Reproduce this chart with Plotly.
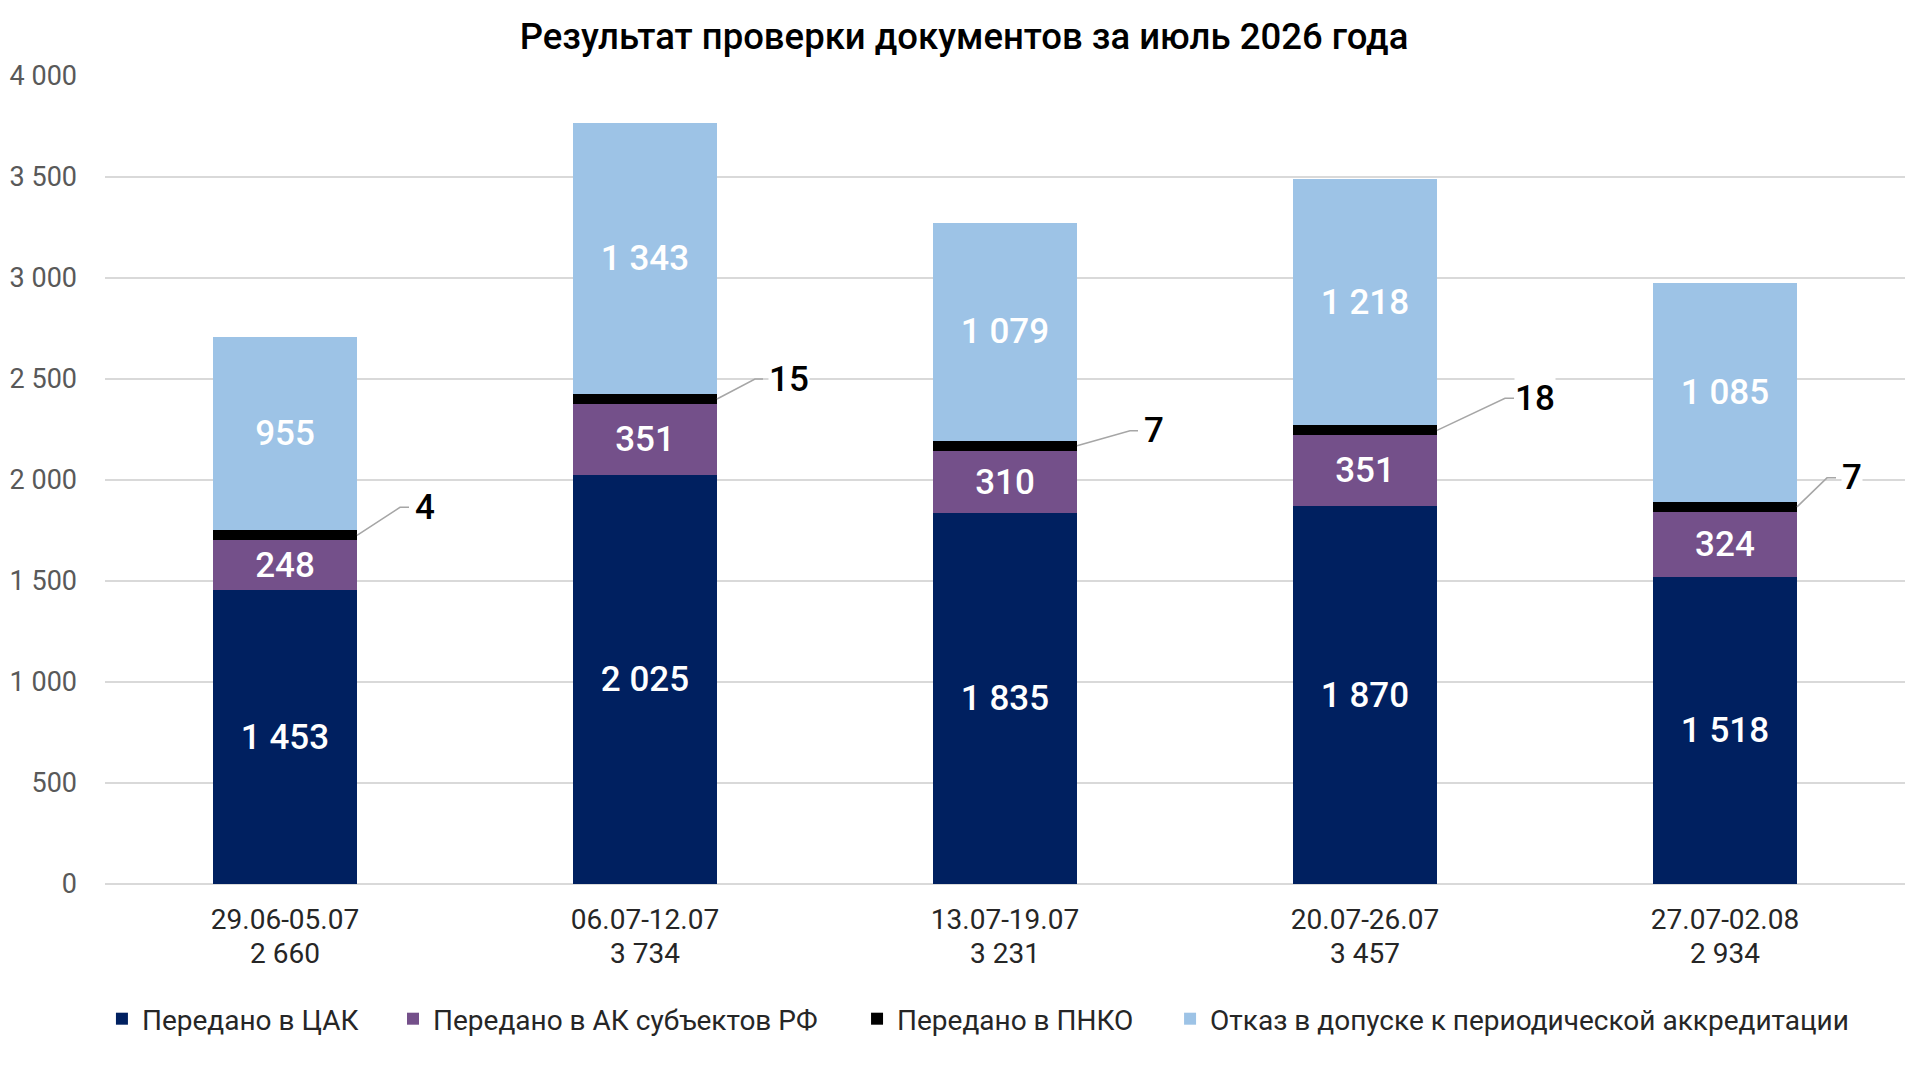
import plotly.graph_objects as go

# data
weeks = ["29.06-05.07", "06.07-12.07", "13.07-19.07", "20.07-26.07", "27.07-02.08"]
cak = [1453, 2025, 1835, 1870, 1518]
ak_rf = [248, 351, 310, 351, 324]
pnko = [4, 15, 7, 18, 7]
pnko_drawn = [50, 50, 50, 50, 50]  # the black band is drawn thicker than its value
refusal = [955, 1343, 1079, 1218, 1085]

series_names = [
    "Передано в ЦАК",
    "Передано в АК субъектов РФ",
    "Передано в ПНКО",
    "Отказ в допуске к периодической аккредитации",
]
colors = ["#002060", "#74508A", "#000000", "#9DC3E6"]

# leader line / label offsets in pixels: (elbow dx, elbow dy, line end dx, label dx)
leaders = [(43, 28, 52, 57), (38, 20, 46, 51), (53, 15, 61, 66), (68, 32, 77, 77), (30, 29, 39, 44)]

FONT = "Roboto"
BAR_W = 0.4
# page body has an 8px margin, so the figure is a bit smaller than the window
W, H = 1912, 1072
L, R, T, B = 97, 15, 68, 196


def fmt(v):
    return f"{v:,}".replace(",", " ")


totals = [a + b + c + d for a, b, c, d in zip(cak, ak_rf, pnko, refusal)]
xs = list(range(len(weeks)))

# legend positions (paper x) for the four separate legends
legend_x = [-0.0017, 0.1600, 0.4178, 0.5917]
legend_ids = ["legend", "legend2", "legend3", "legend4"]

fig = go.Figure()
for k, (name, vals, col) in enumerate(zip(series_names, [cak, ak_rf, pnko_drawn, refusal], colors)):
    show_text = vals is not pnko_drawn
    fig.add_trace(go.Bar(
        x=xs, y=vals, name=name, width=BAR_W,
        marker=dict(color=col, line=dict(width=0)),
        text=[fmt(v) for v in vals] if show_text else None,
        textposition="inside" if show_text else "none",
        insidetextanchor="middle",
        constraintext="none",
        textfont=dict(family=FONT, size=35, color="white", weight=500),
        hoverinfo="skip",
        legend=legend_ids[k],
        showlegend=True,
    ))

# leader lines and outside labels for the ПНКО series
for i, (v, (ex, ey, lx, tx)) in enumerate(zip(pnko, leaders)):
    mid = cak[i] + ak_rf[i] + pnko_drawn[i] / 2
    fig.add_shape(
        type="path", xref="x", yref="y",
        xsizemode="pixel", ysizemode="pixel",
        xanchor=i + BAR_W / 2, yanchor=mid,
        path=f"M0,0 L{ex},{ey} L{lx},{ey}",
        line=dict(color="#A6A6A6", width=1.5),
    )
    fig.add_annotation(
        x=i + BAR_W / 2, y=mid, xref="x", yref="y",
        xshift=tx, yshift=ey, xanchor="left", yanchor="middle",
        text=str(v), showarrow=False, bgcolor="white", borderpad=0,
        font=dict(family=FONT, size=35, color="black", weight=500),
    )

# weekly totals under the period labels
for i, t in enumerate(totals):
    fig.add_annotation(
        x=i, y=0, xref="x", yref="y", yshift=-69,
        xanchor="center", yanchor="middle",
        text=fmt(t), showarrow=False,
        font=dict(family=FONT, size=28, color="#262626"),
    )

legend_common = dict(
    orientation="h", y=(0 - (1011 - (H - B))) / (H - B - T), yanchor="middle", xanchor="left",
    font=dict(family=FONT, size=28, color="#262626"), bgcolor="rgba(0,0,0,0)",
)

fig.update_layout(
    width=W, height=H,
    barmode="stack",
    separators=", ",
    showlegend=True,
    paper_bgcolor="white", plot_bgcolor="white",
    margin=dict(l=L, r=R, t=T, b=B, autoexpand=False),
    title=dict(
        text="Результат проверки документов за июль 2026 года",
        x=0.5, xanchor="center", y=1 - 28.5 / H, yanchor="middle",
        font=dict(family=FONT, size=36.5, color="black", weight=500),
    ),
    font=dict(family=FONT, size=28, color="#404040"),
    uniformtext=dict(mode="show", minsize=35),
    xaxis=dict(
        range=[-0.5, len(weeks) - 0.5],
        tickvals=xs, ticktext=weeks,
        showgrid=False, zeroline=False, showline=False, ticks="",
        ticklabelstandoff=16, automargin=False,
        tickfont=dict(family=FONT, size=28, color="#262626"),
    ),
    yaxis=dict(
        range=[0, 4000], dtick=500, tickformat=",",
        showgrid=True, gridcolor="#D9D9D9", gridwidth=1.5,
        zeroline=True, zerolinecolor="#D9D9D9", zerolinewidth=1.5,
        showline=False, ticks="", ticklabelstandoff=27, automargin=False,
        tickfont=dict(family=FONT, size=27, color="#595959"),
    ),
)
for lid, lx in zip(legend_ids, legend_x):
    fig.update_layout({lid: dict(legend_common, x=lx)})

fig.write_html("out.html")
